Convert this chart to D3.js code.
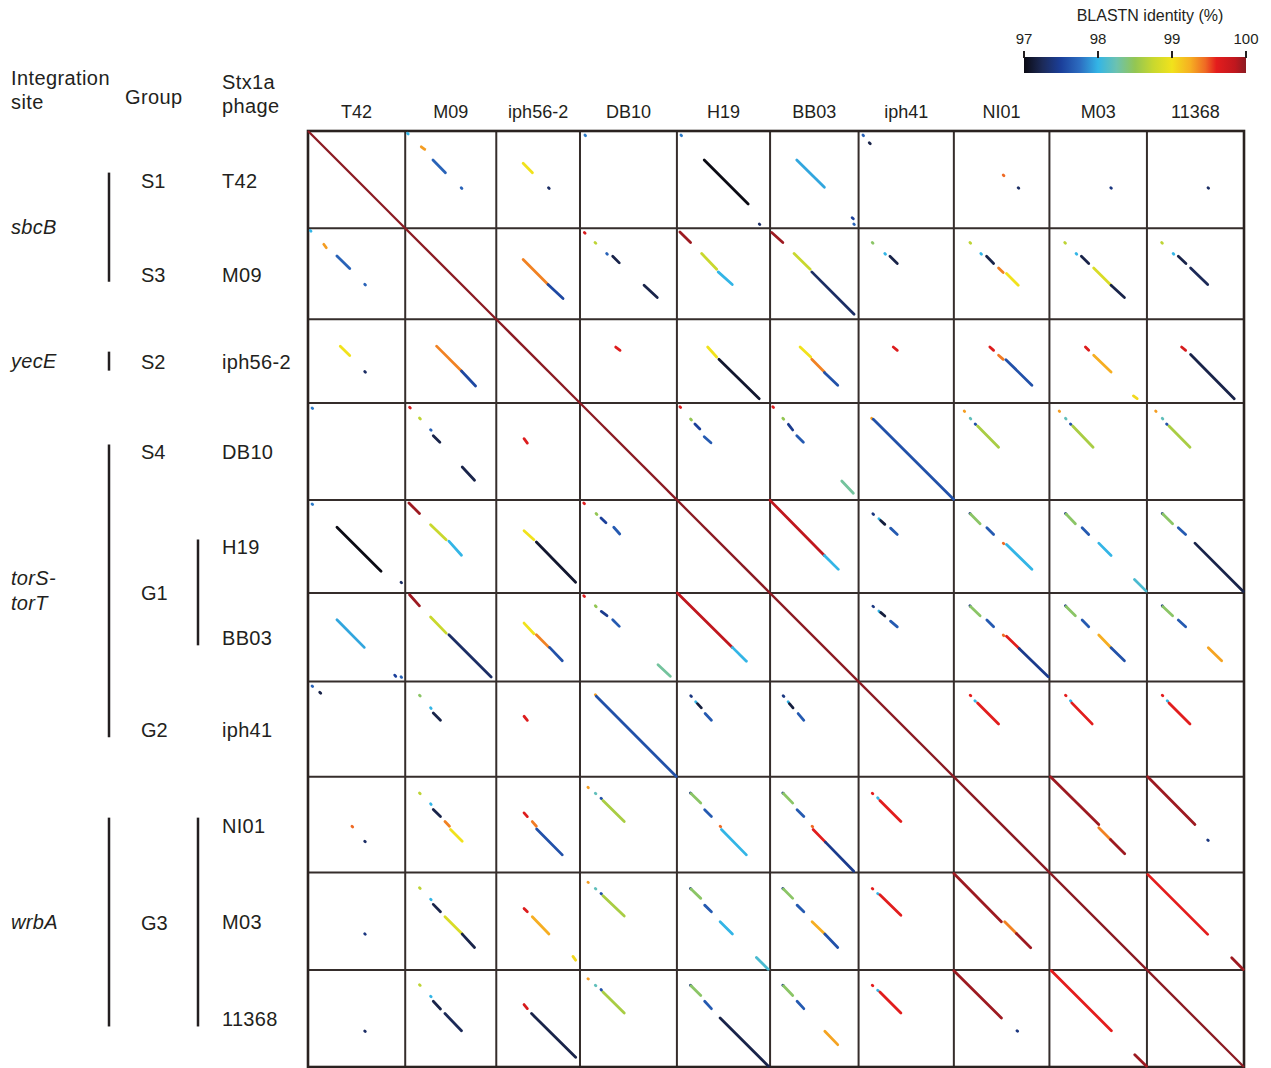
<!DOCTYPE html>
<html>
<head>
<meta charset="utf-8">
<script src="https://cdn.jsdelivr.net/npm/d3@7"></script>
<style>
  body { margin: 0; background: #fff; }
  svg text { font-family: "Liberation Sans", Arial, sans-serif; fill: #231f20; }
</style>
</head>
<body>
<svg id="chart" width="1271" height="1068"></svg>
<script>
// phages in plot order, genome size (kb), integration site and group
const phages = ["T42", "M09", "iph56-2", "DB10", "H19", "BB03", "iph41", "NI01", "M03", "11368"];
const genomeKb = [64.8, 60.7, 55.8, 64.6, 62.1, 59.0, 63.5, 63.7, 65.0, 64.7];
const siteOfPhage = ["sbcB", "sbcB", "yecE", "torS-\ntorT", "torS-\ntorT", "torS-\ntorT", "torS-\ntorT", "wrbA", "wrbA", "wrbA"];
const groupOfPhage = ["S1", "S3", "S2", "S4", "G1", "G1", "G2", "G3", "G3", "G3"];

// identity colour ramp (BLASTN %)
const pidStops = [97.0, 97.25, 97.5, 97.75, 98.0, 98.25, 98.5, 98.75, 99.0, 99.25, 99.45, 99.6, 99.85, 100];
const pidColors = ["#0b0b14", "#1c2a58", "#1b3f9a", "#2c6cc0", "#33b5e6", "#6cc2b0", "#93c653", "#c9d82e",
                   "#f1e21c", "#f6ae22", "#ef6a24", "#e41d1d", "#c0171e", "#8c1b23"];
const legendTicks = [97, 98, 99, 100];

// BLASTN hits: [subject, qStart, qEnd, sStart, sEnd, identity]  (positions in kb)
const hitsT42 = [
  ["M09", 1.5, 2.0, 1.5, 2.0, 98.0],
  ["M09", 10.5, 12.2, 10.7, 13.0, 99.3],
  ["M09", 19.3, 27.8, 18.5, 26.8, 97.7],
  ["M09", 37.8, 38.3, 37.3, 37.8, 97.7],
  ["iph56-2", 21.5, 27.8, 17.9, 24.1, 99.0],
  ["iph56-2", 37.8, 38.3, 34.8, 35.3, 97.3],
  ["DB10", 2.7, 3.1, 3.3, 3.7, 97.8],
  ["H19", 19.3, 48.7, 18.2, 47.5, 97.0],
  ["H19", 62.0, 62.4, 54.9, 55.3, 97.3],
  ["H19", 2.7, 3.1, 2.7, 3.1, 97.8],
  ["BB03", 19.3, 37.5, 17.8, 36.2, 97.95],
  ["BB03", 57.8, 58.5, 54.7, 55.5, 97.5],
  ["BB03", 62.0, 62.4, 55.8, 56.2, 97.7],
  ["iph41", 7.8, 8.5, 7.1, 7.8, 97.2],
  ["iph41", 2.7, 3.1, 2.9, 3.3, 97.7],
  ["NI01", 29.3, 29.8, 32.9, 33.4, 99.45],
  ["NI01", 37.8, 38.2, 42.9, 43.3, 97.3],
  ["M03", 37.8, 38.2, 40.9, 41.3, 97.4],
  ["11368", 37.8, 38.2, 40.7, 41.1, 97.3]
];
const hitsM09 = [
  ["iph56-2", 20.9, 37.5, 17.9, 34.5, 99.38],
  ["iph56-2", 37.5, 46.9, 34.5, 44.5, 97.55],
  ["DB10", 2.9, 3.4, 2.9, 3.4, 99.7],
  ["DB10", 9.5, 10.1, 10.0, 10.6, 98.7],
  ["DB10", 16.9, 17.3, 17.8, 18.2, 97.7],
  ["DB10", 18.7, 23.1, 21.8, 26.2, 97.2],
  ["DB10", 38.0, 46.2, 42.7, 51.5, 97.2],
  ["H19", 2.5, 9.5, 2.0, 9.1, 99.95],
  ["H19", 16.9, 27.3, 16.5, 26.5, 98.75],
  ["H19", 29.1, 37.5, 27.5, 36.9, 98.0],
  ["BB03", 2.9, 9.5, 1.1, 8.5, 99.95],
  ["BB03", 16.9, 27.3, 16.0, 26.7, 98.75],
  ["BB03", 29.1, 57.3, 27.8, 56.0, 97.3],
  ["iph41", 9.5, 10.0, 9.1, 9.6, 98.45],
  ["iph41", 16.9, 17.3, 17.5, 17.9, 98.0],
  ["iph41", 18.7, 23.5, 20.9, 25.8, 97.2],
  ["NI01", 9.5, 10.0, 10.7, 11.2, 98.7],
  ["NI01", 16.9, 17.3, 18.0, 18.4, 98.0],
  ["NI01", 18.7, 23.5, 21.8, 26.5, 97.2],
  ["NI01", 26.5, 29.5, 29.8, 32.9, 99.38],
  ["NI01", 30.2, 38.0, 35.1, 42.9, 99.0],
  ["M03", 9.5, 10.0, 10.2, 10.7, 98.7],
  ["M03", 16.9, 17.3, 17.8, 18.2, 98.0],
  ["M03", 18.7, 23.5, 21.3, 26.2, 97.2],
  ["M03", 26.5, 38.0, 29.5, 41.1, 98.85],
  ["M03", 38.0, 46.2, 41.1, 50.0, 97.2],
  ["11368", 9.5, 10.0, 9.8, 10.3, 98.7],
  ["11368", 16.9, 17.3, 17.5, 17.9, 98.0],
  ["11368", 18.7, 23.5, 20.9, 26.0, 97.2],
  ["11368", 26.5, 37.5, 29.1, 40.5, 97.25]
];
const hitsIph56 = [
  ["DB10", 18.5, 20.7, 23.8, 26.7, 99.65],
  ["H19", 18.5, 25.1, 20.5, 26.5, 99.0],
  ["H19", 26.7, 52.9, 28.0, 54.9, 97.1],
  ["BB03", 18.5, 25.1, 20.0, 27.1, 99.0],
  ["BB03", 26.7, 35.1, 27.8, 36.2, 99.38],
  ["BB03", 35.5, 44.0, 36.2, 45.1, 97.6],
  ["iph41", 18.5, 20.7, 23.1, 25.8, 99.65],
  ["NI01", 18.5, 20.7, 24.0, 26.5, 99.65],
  ["NI01", 24.0, 26.7, 29.8, 32.9, 99.4],
  ["NI01", 26.9, 44.0, 34.7, 52.0, 97.6],
  ["M03", 18.5, 20.7, 24.0, 26.2, 99.65],
  ["M03", 24.0, 35.1, 29.5, 41.1, 99.25],
  ["M03", 51.1, 52.9, 56.0, 58.5, 99.05],
  ["11368", 18.5, 20.7, 23.1, 25.8, 99.7],
  ["11368", 23.5, 52.9, 29.1, 58.2, 97.2]
];
const hitsDB10 = [
  ["H19", 2.5, 3.0, 2.0, 2.5, 99.65],
  ["H19", 10.7, 11.3, 9.1, 9.7, 98.5],
  ["H19", 14.0, 17.3, 12.0, 15.3, 97.5],
  ["H19", 22.5, 26.5, 18.2, 22.7, 97.65],
  ["BB03", 2.5, 3.0, 1.8, 2.3, 99.65],
  ["BB03", 10.2, 10.8, 8.5, 9.1, 98.5],
  ["BB03", 14.2, 18.0, 12.2, 15.1, 97.45],
  ["BB03", 21.8, 26.2, 17.8, 22.2, 97.65],
  ["BB03", 52.0, 60.2, 47.8, 55.5, 98.3],
  ["iph41", 10.2, 10.6, 8.7, 9.1, 99.3],
  ["iph41", 10.9, 64.2, 9.8, 63.3, 97.6],
  ["NI01", 5.3, 5.6, 6.9, 7.2, 99.3],
  ["NI01", 10.2, 10.6, 10.9, 11.3, 98.2],
  ["NI01", 14.0, 14.4, 14.2, 14.6, 97.6],
  ["NI01", 15.3, 29.5, 15.8, 29.8, 98.6],
  ["M03", 5.3, 5.6, 6.5, 6.8, 99.3],
  ["M03", 10.2, 10.6, 10.7, 11.1, 98.2],
  ["M03", 14.0, 14.4, 14.0, 14.4, 97.6],
  ["M03", 15.3, 29.5, 15.5, 29.1, 98.6],
  ["11368", 5.3, 5.6, 5.8, 6.1, 99.3],
  ["11368", 10.2, 10.6, 10.2, 10.6, 98.2],
  ["11368", 14.0, 14.4, 13.1, 13.5, 97.6],
  ["11368", 15.3, 29.5, 14.7, 28.7, 98.6]
];
const hitsH19 = [
  ["BB03", 0.3, 37.0, 0.0, 36.2, 99.85],
  ["BB03", 37.0, 46.3, 36.2, 45.5, 98.0],
  ["iph41", 9.2, 9.7, 9.5, 10.0, 97.4],
  ["iph41", 12.5, 12.9, 13.5, 13.9, 98.0],
  ["iph41", 13.7, 16.3, 14.7, 17.5, 97.15],
  ["iph41", 18.8, 23.0, 21.3, 25.8, 97.65],
  ["NI01", 9.0, 9.4, 10.7, 11.1, 97.4],
  ["NI01", 9.4, 15.9, 11.1, 17.5, 98.45],
  ["NI01", 18.5, 23.0, 22.0, 26.5, 97.65],
  ["NI01", 28.8, 29.2, 32.9, 33.3, 99.45],
  ["NI01", 29.7, 46.3, 35.1, 52.0, 98.0],
  ["M03", 9.0, 9.4, 10.7, 11.1, 97.4],
  ["M03", 9.4, 15.9, 11.1, 17.3, 98.45],
  ["M03", 18.5, 23.0, 21.8, 26.2, 97.65],
  ["M03", 28.8, 37.0, 32.9, 41.1, 98.0],
  ["M03", 53.0, 60.8, 56.7, 64.5, 98.1],
  ["11368", 9.0, 9.4, 10.2, 10.6, 97.4],
  ["11368", 9.4, 15.9, 10.6, 17.1, 98.45],
  ["11368", 18.5, 23.0, 20.9, 25.8, 97.65],
  ["11368", 28.8, 61.0, 32.0, 64.2, 97.2]
];
const hitsBB03 = [
  ["iph41", 8.7, 9.2, 9.5, 10.0, 97.4],
  ["iph41", 12.0, 12.4, 13.5, 13.9, 98.0],
  ["iph41", 12.9, 15.3, 14.7, 17.5, 97.15],
  ["iph41", 18.7, 22.5, 21.3, 25.8, 97.65],
  ["NI01", 8.5, 8.9, 10.7, 11.1, 97.4],
  ["NI01", 8.9, 15.1, 11.1, 17.5, 98.45],
  ["NI01", 18.0, 22.5, 22.0, 26.5, 97.65],
  ["NI01", 28.0, 28.4, 32.9, 33.3, 99.45],
  ["NI01", 28.7, 36.9, 35.1, 43.5, 99.62],
  ["NI01", 36.9, 55.8, 43.5, 62.9, 97.45],
  ["M03", 8.5, 8.9, 10.7, 11.1, 97.4],
  ["M03", 8.9, 15.1, 11.1, 17.3, 98.45],
  ["M03", 18.0, 22.5, 21.8, 26.2, 97.65],
  ["M03", 28.0, 36.5, 32.9, 41.1, 99.25],
  ["M03", 36.5, 45.1, 41.1, 50.0, 97.6],
  ["11368", 8.5, 8.9, 10.2, 10.6, 97.4],
  ["11368", 8.9, 15.1, 10.6, 17.1, 98.45],
  ["11368", 18.0, 22.5, 20.9, 25.8, 97.65],
  ["11368", 36.5, 45.1, 40.9, 49.8, 99.28]
];
const hitsIph41 = [
  ["NI01", 9.1, 9.5, 10.9, 11.3, 99.6],
  ["NI01", 12.7, 13.1, 14.0, 14.4, 98.0],
  ["NI01", 14.2, 28.2, 15.8, 29.8, 99.62],
  ["M03", 9.1, 9.5, 10.7, 11.1, 99.6],
  ["M03", 12.7, 13.1, 14.0, 14.4, 98.0],
  ["M03", 14.2, 28.2, 14.9, 28.5, 99.62],
  ["11368", 9.1, 9.5, 10.2, 10.6, 99.6],
  ["11368", 12.7, 13.1, 13.5, 13.9, 98.0],
  ["11368", 14.2, 28.2, 14.7, 28.7, 99.62]
];
const hitsNI01 = [
  ["M03", 0.0, 31.7, 0.7, 32.9, 99.95],
  ["M03", 33.9, 41.7, 32.9, 40.7, 99.38],
  ["M03", 41.7, 51.2, 40.7, 50.2, 99.95],
  ["11368", 0.0, 31.7, 0.5, 32.0, 99.95],
  ["11368", 42.1, 42.5, 40.5, 40.9, 97.4]
];
const hitsM03 = [
  ["11368", 1.3, 41.3, 0.5, 40.5, 99.6],
  ["11368", 56.9, 64.7, 56.5, 64.2, 99.95]
];

const hitsByQuery = {
  "T42": hitsT42, "M09": hitsM09, "iph56-2": hitsIph56, "DB10": hitsDB10, "H19": hitsH19,
  "BB03": hitsBB03, "iph41": hitsIph41, "NI01": hitsNI01, "M03": hitsM03
};

const svg = d3.select("#chart");
const ink = "#231f20";

const total = d3.sum(genomeKb);
const offsets = genomeKb.map((d, i) => d3.sum(genomeKb.slice(0, i)));
const x = d3.scaleLinear().domain([0, total]).range([308, 1244]);
const y = d3.scaleLinear().domain([0, total]).range([131, 1067]);
const color = d3.scaleLinear().domain(pidStops).range(pidColors).clamp(true);

// ---- segments (upper triangle + mirrored lower triangle + self diagonal)
const segs = [];
phages.forEach((p, i) => {
  segs.push({x1: x(offsets[i]), y1: y(offsets[i]), x2: x(offsets[i] + genomeKb[i]), y2: y(offsets[i] + genomeKb[i]), pid: 100, self: true});
});
Object.entries(hitsByQuery).forEach(([q, hits]) => {
  const qi = phages.indexOf(q);
  hits.forEach(h => {
    const si = phages.indexOf(h[0]);
    // query on rows, subject on columns
    segs.push({x1: x(offsets[si] + h[3]), y1: y(offsets[qi] + h[1]), x2: x(offsets[si] + h[4]), y2: y(offsets[qi] + h[2]), pid: h[5]});
    // mirrored cell
    segs.push({x1: x(offsets[qi] + h[1]), y1: y(offsets[si] + h[3]), x2: x(offsets[qi] + h[2]), y2: y(offsets[si] + h[4]), pid: h[5]});
  });
});

// ---- grid
const bounds = offsets.concat([total]);
const grid = svg.append("g");
bounds.forEach(b => {
  grid.append("line").attr("x1", x(b)).attr("x2", x(b)).attr("y1", y(0)).attr("y2", y(total))
    .attr("stroke", "#352d2b").attr("stroke-width", 2);
  grid.append("line").attr("x1", x(0)).attr("x2", x(total)).attr("y1", y(b)).attr("y2", y(b))
    .attr("stroke", "#352d2b").attr("stroke-width", 2);
});
grid.append("rect").attr("x", x(0)).attr("y", y(0)).attr("width", x(total) - x(0)).attr("height", y(total) - y(0))
  .attr("fill", "none").attr("stroke", "#2a2220").attr("stroke-width", 2.6);

svg.append("g").selectAll("line")
  .data(segs)
  .enter()
  .append("line")
  .attr("x1", d => d.x1).attr("y1", d => d.y1)
  .attr("x2", d => d.x2).attr("y2", d => d.y2)
  .attr("stroke", d => color(d.pid))
  .attr("stroke-width", d => d.self ? 2.3 : 2.8)
  .attr("stroke-linecap", d => d.self ? "butt" : "round");

// ---- column headers
svg.append("g").selectAll("text")
  .data(phages)
  .enter()
  .append("text")
  .attr("x", (d, i) => x(offsets[i] + genomeKb[i] / 2))
  .attr("y", 118)
  .attr("text-anchor", "middle")
  .style("font-size", "18px")
  .text(d => d);

// ---- row labels
const rowCenter = i => y(offsets[i] + genomeKb[i] / 2);
svg.append("g").selectAll("text")
  .data(phages)
  .enter()
  .append("text")
  .attr("x", 222)
  .attr("y", (d, i) => rowCenter(i) + 8)
  .style("font-size", "20px")
  .style("letter-spacing", "0.3px")
  .text(d => d);

// header labels
const head = svg.append("g").style("font-size", "20px").style("letter-spacing", "0.4px");
head.append("text").attr("x", 11).attr("y", 85).text("Integration");
head.append("text").attr("x", 11).attr("y", 109).text("site");
head.append("text").attr("x", 125).attr("y", 104).text("Group");
head.append("text").attr("x", 222).attr("y", 89).text("Stx1a");
head.append("text").attr("x", 222).attr("y", 113).text("phage");

// spans of consecutive equal values
function spans(arr) {
  const out = [];
  arr.forEach((v, i) => {
    if (out.length && out[out.length - 1].name === v) out[out.length - 1].last = i;
    else out.push({name: v, first: i, last: i});
  });
  return out;
}

spans(siteOfPhage).forEach(s => {
  const top = rowCenter(s.first), bot = rowCenter(s.last);
  const mid = (top + bot) / 2;
  const y0 = s.first === s.last ? mid - 9.5 : top - 7;
  const y1 = s.first === s.last ? mid + 9.5 : bot + 8;
  svg.append("line").attr("x1", 109).attr("x2", 109).attr("y1", y0).attr("y2", y1)
    .attr("stroke", ink).attr("stroke-width", 2.5);
  const lines = s.name.split("\n");
  lines.forEach((t, k) => {
    svg.append("text")
      .attr("x", 11)
      .attr("y", mid + 7 + (k - (lines.length - 1) / 2) * 25)
      .style("font-size", "20px")
      .style("font-style", "italic")
      .style("letter-spacing", "0.3px")
      .text(t);
  });
});

spans(groupOfPhage).forEach(g => {
  const top = rowCenter(g.first), bot = rowCenter(g.last);
  const mid = (top + bot) / 2;
  if (g.first !== g.last) {
    svg.append("line").attr("x1", 198).attr("x2", 198).attr("y1", top - 7).attr("y2", bot + 8)
      .attr("stroke", ink).attr("stroke-width", 2.5);
  }
  svg.append("text").attr("x", 141).attr("y", mid + 8).style("font-size", "20px").text(g.name);
});

// ---- legend
const lx = d3.scaleLinear().domain([97, 100]).range([1024, 1246]);
const defs = svg.append("defs");
const grad = defs.append("linearGradient").attr("id", "pidGrad").attr("x1", "0%").attr("x2", "100%");
pidStops.forEach((s, i) => {
  grad.append("stop").attr("offset", ((s - 97) / 3 * 100) + "%").attr("stop-color", pidColors[i]);
});
const leg = svg.append("g");
leg.append("text").attr("x", 1150).attr("y", 21).attr("text-anchor", "middle")
  .style("font-size", "16px").text("BLASTN identity (%)");
leg.append("rect").attr("x", lx(97)).attr("y", 57).attr("width", lx(100) - lx(97)).attr("height", 16)
  .attr("fill", "url(#pidGrad)");
leg.selectAll("line.tick")
  .data(legendTicks)
  .enter()
  .append("line")
  .attr("class", "tick")
  .attr("x1", d => lx(d)).attr("x2", d => lx(d))
  .attr("y1", 51).attr("y2", 58)
  .attr("stroke", ink).attr("stroke-width", 2);
leg.selectAll("text.tl")
  .data(legendTicks)
  .enter()
  .append("text")
  .attr("class", "tl")
  .attr("x", d => lx(d))
  .attr("y", 44)
  .attr("text-anchor", "middle")
  .style("font-size", "15px")
  .text(d => d);
</script>
</body>
</html>
